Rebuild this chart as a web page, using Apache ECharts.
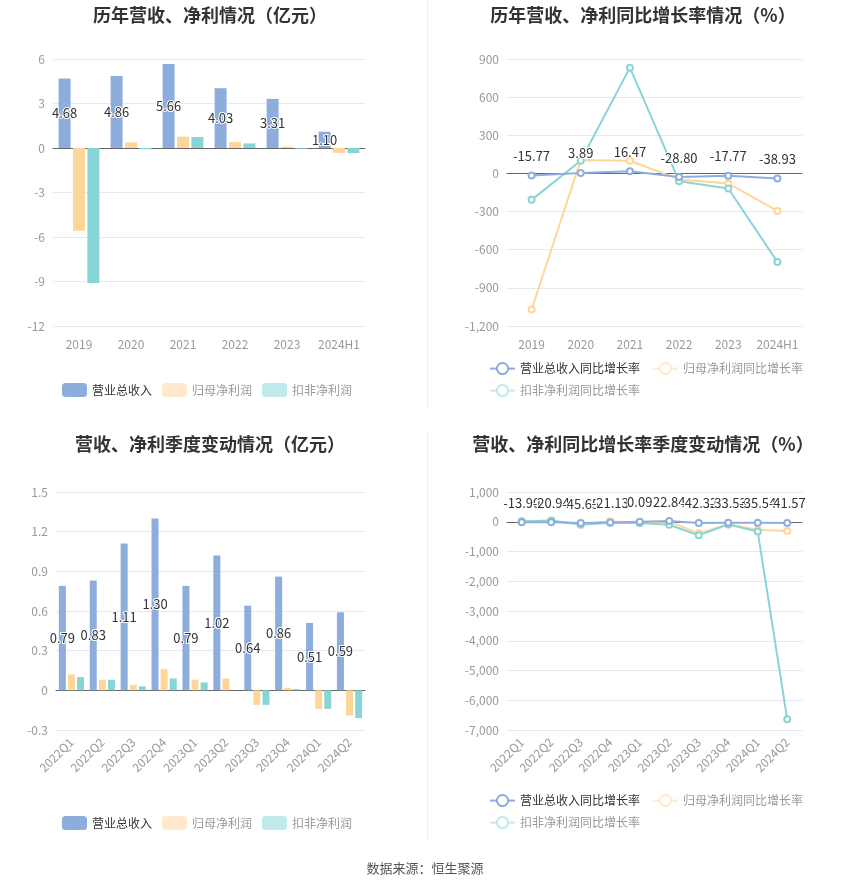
<!DOCTYPE html>
<html>
<head>
<meta charset="utf-8">
<script src="https://cdn.jsdelivr.net/npm/echarts@6/dist/echarts.min.js"></script>
<style>html,body{margin:0;padding:0;background:#fff;}#main{width:850px;height:891px;}</style>
</head>
<body>
<div id="main"></div>
<script>
var years = ['2019','2020','2021','2022','2023','2024H1'];
var revenue = [4.68,4.86,5.66,4.03,3.31,1.10];
var netProfit = [-5.58,0.38,0.76,0.40,0.10,-0.33];
var deductedProfit = [-9.10,-0.08,0.74,0.31,-0.05,-0.34];
var revenueYoy = [-15.77,3.89,16.47,-28.80,-17.77,-38.93];
var netProfitYoy = [-1070,105,100,-47,-79,-295];
var deductedYoy = [-208,99,832,-61,-118,-696];

var quarters = ['2022Q1','2022Q2','2022Q3','2022Q4','2023Q1','2023Q2','2023Q3','2023Q4','2024Q1','2024Q2'];
var qRevenue = [0.79,0.83,1.11,1.30,0.79,1.02,0.64,0.86,0.51,0.59];
var qNetProfit = [0.12,0.08,0.04,0.16,0.08,0.09,-0.11,0.02,-0.14,-0.19];
var qDeducted = [0.10,0.08,0.03,0.09,0.06,0.00,-0.11,0.01,-0.14,-0.21];
var qRevenueYoy = [-13.90,-20.94,-45.65,-21.13,0.09,22.84,-42.32,-33.53,-35.54,-41.57];
var qNetProfitYoy = [25,35,-80,20,-33,12,-390,-85,-270,-310];
var qDeductedYoy = [10,40,-100,-30,-40,-100,-455,-90,-330,-6640];

var C_BLUE = '#8DAEDC', C_YEL = '#FFD699', C_TEAL = '#88D5D8';
var C_YEL_L = '#FFEBCC', C_TEAL_L = '#C2EAEB';
var barNames = ['营业总收入','归母净利润','扣非净利润'];
var lineNames = ['营业总收入同比增长率','归母净利润同比增长率','扣非净利润同比增长率'];

var chart = echarts.init(document.getElementById('main'));

function title(text, cx, top) {
  return {text: text, left: cx, top: top, textAlign: 'center',
    textStyle: {fontSize: 18, fontWeight: 'bold', color: '#333', fontFamily: 'Noto Sans CJK SC'}};
}
function xAx(idx, data, rotate) {
  return {type: 'category', gridIndex: idx, data: data,
    axisLine: {onZero: true, lineStyle: {color: '#666'}},
    axisTick: {alignWithLabel: true, lineStyle: {color: '#666'}},
    axisLabel: {color: '#999', fontSize: 12, rotate: rotate || 0, margin: rotate ? 10 : 12, interval: 0}};
}
function yAx(idx, min, max, interval) {
  return {type: 'value', gridIndex: idx, min: min, max: max, interval: interval,
    axisLine: {show: false}, axisTick: {show: false},
    axisLabel: {color: '#999', fontSize: 12},
    splitLine: {lineStyle: {color: '#E3E8F3'}}};
}
var valLabel = {show: true, color: '#333', fontSize: 13, textBorderColor: '#fff', textBorderWidth: 2,
  formatter: function(p){ return p.value.toFixed(2); }};

function barLegend(top) {
  return {top: top, left: 57, itemWidth: 25, itemHeight: 14, itemGap: 10, icon: 'roundRect',
    textStyle: {fontSize: 12, color: '#999'},
    data: [
      {name: barNames[0], itemStyle: {color: C_BLUE}, textStyle: {color: '#333'}},
      {name: barNames[1], itemStyle: {color: C_YEL_L}},
      {name: barNames[2], itemStyle: {color: C_TEAL_L}}
    ]};
}
function lineLegends(top) {
  return [
    {top: top, left: 484, itemWidth: 25, itemHeight: 14, itemGap: 12,
      textStyle: {fontSize: 12, color: '#999'},
      data: [
        {name: lineNames[0], itemStyle: {color: C_BLUE, borderColor: C_BLUE, borderWidth: 2}, lineStyle: {color: C_BLUE, width: 2}, textStyle: {color: '#333'}},
        {name: lineNames[1], itemStyle: {color: C_YEL_L, borderColor: C_YEL_L, borderWidth: 2}, lineStyle: {color: C_YEL_L, width: 2}}
      ]},
    {top: top + 22, left: 484, itemWidth: 25, itemHeight: 14,
      textStyle: {fontSize: 12, color: '#999'},
      data: [
        {name: lineNames[2], itemStyle: {color: C_TEAL_L, borderColor: C_TEAL_L, borderWidth: 2}, lineStyle: {color: C_TEAL_L, width: 2}}
      ]}
  ];
}
function bars(idx, width, gap, vals, name, color, label) {
  return {type: 'bar', name: name, xAxisIndex: idx, yAxisIndex: idx, data: vals,
    barWidth: width, barGap: gap, itemStyle: {color: color},
    label: label ? Object.assign({position: 'inside'}, valLabel) : {show: false}};
}
function line(idx, vals, name, color, label) {
  return {type: 'line', name: name, xAxisIndex: idx, yAxisIndex: idx, data: vals,
    symbol: 'emptyCircle', symbolSize: 6, lineStyle: {width: 2, color: color},
    itemStyle: {color: color}, z: label ? 5 : 3,
    label: label ? Object.assign({position: 'top', distance: 9}, valLabel) : {show: false}};
}

var option = {
  animation: false,
  textStyle: {fontFamily: 'Noto Sans CJK SC'},
  title: [
    title('历年营收、净利情况（亿元）', 205, 1),
    title('历年营收、净利同比增长率情况（%）', 638, 1),
    title('营收、净利季度变动情况（亿元）', 205, 430),
    title('营收、净利同比增长率季度变动情况（%）', 638, 430)
  ],
  legend: [barLegend(378)].concat(lineLegends(357), [barLegend(811)], lineLegends(789)),
  grid: [
    {left: 53, top: 59, width: 312, height: 267},
    {left: 507, top: 59, width: 295, height: 267},
    {left: 56, top: 492, width: 309, height: 238},
    {left: 507, top: 492, width: 295, height: 238}
  ],
  xAxis: [xAx(0, years), xAx(1, years), xAx(2, quarters, 45), xAx(3, quarters, 45)],
  yAxis: [yAx(0, -12, 6, 3), yAx(1, -1200, 900, 300), yAx(2, -0.3, 1.5, 0.3), yAx(3, -7000, 1000, 1000)],
  series: [
    bars(0, 12, '20%', revenue, barNames[0], C_BLUE, true),
    bars(0, 12, '20%', netProfit, barNames[1], C_YEL, false),
    bars(0, 12, '20%', deductedProfit, barNames[2], C_TEAL, false),
    line(1, netProfitYoy, lineNames[1], C_YEL, false),
    line(1, deductedYoy, lineNames[2], C_TEAL, false),
    line(1, revenueYoy, lineNames[0], C_BLUE, true),
    bars(2, 7, '30%', qRevenue, barNames[0], C_BLUE, true),
    bars(2, 7, '30%', qNetProfit, barNames[1], C_YEL, false),
    bars(2, 7, '30%', qDeducted, barNames[2], C_TEAL, false),
    line(3, qNetProfitYoy, lineNames[1], C_YEL, false),
    line(3, qDeductedYoy, lineNames[2], C_TEAL, false),
    line(3, qRevenueYoy, lineNames[0], C_BLUE, true)
  ],
  graphic: [
    {type: 'line', shape: {x1: 427.5, y1: 0, x2: 427.5, y2: 407}, style: {stroke: '#EEEEEE', lineWidth: 1}},
    {type: 'line', shape: {x1: 427.5, y1: 431, x2: 427.5, y2: 840}, style: {stroke: '#EEEEEE', lineWidth: 1}},
    {type: 'text', left: 'center', top: 862, style: {text: '数据来源：恒生聚源', fill: '#555', fontSize: 13, fontFamily: 'Noto Sans CJK SC'}}
  ]
};
chart.setOption(option);
</script>
</body>
</html>
